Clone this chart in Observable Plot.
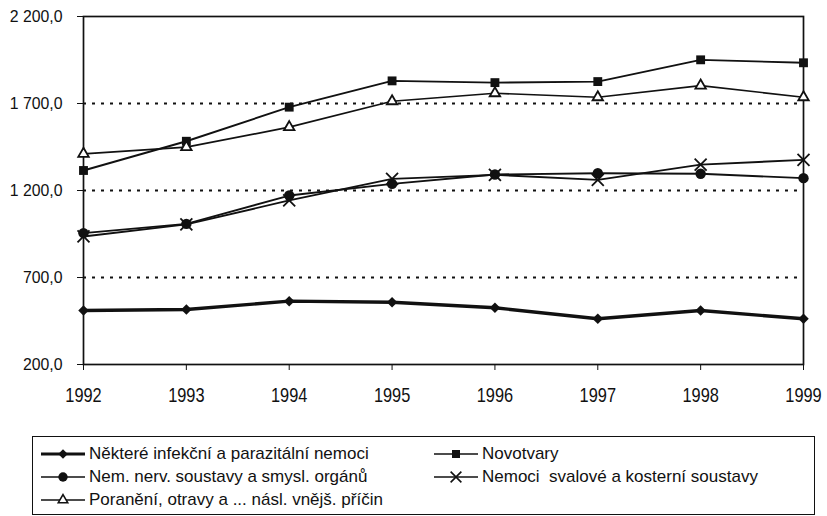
<!DOCTYPE html>
<html>
<head>
<meta charset="utf-8">
<script src="https://cdn.jsdelivr.net/npm/d3@7"></script>
<script src="https://cdn.jsdelivr.net/npm/@observablehq/plot@0.6"></script>
<style>
  html, body { margin: 0; padding: 0; background: #fff; }
  #wrap { position: relative; width: 827px; height: 516px; overflow: hidden; }
  #legend { position: absolute; left: 32px; top: 436px; width: 783px; height: 79px;
    border: 1.5px solid #111; box-sizing: border-box; }
  .item { position: absolute; display: flex; align-items: center; height: 22px;
    font-family: "Liberation Sans", Arial, sans-serif; font-size: 17px; color: #111; white-space: pre; }
  .item svg { margin-right: 4px; }
</style>
</head>
<body>
<div id="wrap">
  <div id="chart"></div>
  <div id="legend"></div>
</div>
<script>
const years = [1992, 1993, 1994, 1995, 1996, 1997, 1998, 1999];
const infekcni = [510, 516, 564, 558, 526, 463, 510, 463];
const novotvary = [1315, 1483, 1679, 1830, 1820, 1826, 1951, 1934];
const nervove = [955, 1008, 1171, 1238, 1292, 1299, 1296, 1271];
const svalove = [936, 1005, 1143, 1267, 1290, 1261, 1349, 1376];
const poraneni = [1411, 1449, 1564, 1713, 1759, 1736, 1803, 1736];
const yTicks = [200, 700, 1200, 1700, 2200];
const gridTicks = [700, 1200, 1700];

const seriesNames = [
  "Některé infekční a parazitální nemoci",
  "Novotvary",
  "Nem. nerv. soustavy a smysl. orgánů",
  "Nemoci  svalové a kosterní soustavy",
  "Poranění, otravy a ... násl. vnějš. příčin"
];
const seriesValues = [infekcni, novotvary, nervove, svalove, poraneni];
const styles = [
  {symbol: "square", rotate: 45, fill: "#111", stroke: "none", r: 4.2, sw: 3.4},
  {symbol: "square", rotate: 0, fill: "#111", stroke: "none", r: 5, sw: 1.9},
  {symbol: "circle", rotate: 0, fill: "#111", stroke: "none", r: 5.2, sw: 1.9},
  {symbol: "times", rotate: 0, fill: "none", stroke: "#111", r: 5.5, sw: 1.9},
  {symbol: "triangle2", rotate: 0, fill: "white", stroke: "#111", r: 5, sw: 1.7}
];

const data = [];
seriesNames.forEach((name, i) => {
  years.forEach((yr, j) => data.push({series: name, idx: i, year: yr, value: seriesValues[i][j]}));
});

const loc = d3.formatLocale({decimal: ",", thousands: "\u00a0", grouping: [3], currency: ["", ""]});
const fmt = loc.format(",.1f");

const axisFont = '"Liberation Sans", Arial, sans-serif';

const marks = [
  Plot.gridY(gridTicks, {stroke: "#111", strokeOpacity: 1, strokeWidth: 2.2, strokeDasharray: "3,6"}),
  Plot.frame({stroke: "#111", strokeWidth: 1.7}),
  Plot.axisY(yTicks, {tickSize: 6, tickPadding: 15, tickFormat: fmt, fontSize: 17, label: null, stroke: "#111", className: "yax"}),
  Plot.axisX(years, {tickSize: 6, tickPadding: 17, tickFormat: d => String(d), fontSize: 21, label: null, stroke: "#111", className: "xax"})
];
styles.forEach((s, i) => {
  const d = data.filter(e => e.idx === i);
  marks.push(Plot.line(d, {x: "year", y: "value", stroke: "#111", strokeWidth: s.sw}));
});
styles.forEach((s, i) => {
  const d = data.filter(e => e.idx === i);
  marks.push(Plot.dot(d, {x: "year", y: "value", symbol: () => s.symbol, r: s.r, rotate: s.rotate,
    fill: s.fill, stroke: s.stroke, strokeWidth: 1.8}));
});

const chart = Plot.plot({
  width: 827,
  height: 425,
  marginLeft: 83,
  marginRight: 24,
  marginTop: 16,
  marginBottom: 61,
  style: {fontFamily: axisFont, color: "#111", background: "white", overflow: "visible"},
  x: {domain: [1992, 1999], type: "linear"},
  y: {domain: [200, 2200]},
  symbol: {type: "identity"},
  marks
});
document.getElementById("chart").appendChild(chart);

// Condense the axis tick labels (the original uses a narrow face)
function condense(sel, factor) {
  d3.select(chart).selectAll(sel).each(function() {
    const w = this.getComputedTextLength();
    this.setAttribute("textLength", (w * factor).toFixed(1));
    this.setAttribute("lengthAdjust", "spacingAndGlyphs");
  });
}
condense(".xax text", 0.78);
condense(".yax text", 0.93);

// Legend
const legend = document.getElementById("legend");
const pos = [
  {x: 8, y: 6}, {x: 401, y: 6},
  {x: 8, y: 29}, {x: 401, y: 29},
  {x: 8, y: 52}
];
const legendSymbol = (s) => {
  const w = 44, h = 16;
  const svg = d3.create("svg").attr("width", w).attr("height", h);
  svg.append("line").attr("x1", 0).attr("x2", w).attr("y1", h / 2).attr("y2", h / 2)
    .attr("stroke", "#111").attr("stroke-width", s.sw === 3.4 ? 3 : 1.6);
  const sym = {square: d3.symbolSquare, circle: d3.symbolCircle, times: d3.symbolTimes, triangle2: d3.symbolTriangle2}[s.symbol];
  const rr = s.r * 0.9;
  svg.append("path").attr("d", d3.symbol(sym, rr * rr * Math.PI)())
    .attr("transform", `translate(${w / 2},${h / 2}) rotate(${s.rotate})`)
    .attr("fill", s.fill).attr("stroke", s.stroke).attr("stroke-width", 1.6);
  return svg.node();
};
seriesNames.forEach((name, i) => {
  const div = document.createElement("div");
  div.className = "item";
  div.style.left = pos[i].x + "px";
  div.style.top = pos[i].y + "px";
  div.appendChild(legendSymbol(styles[i]));
  div.appendChild(document.createTextNode(name));
  legend.appendChild(div);
});
</script>
</body>
</html>
